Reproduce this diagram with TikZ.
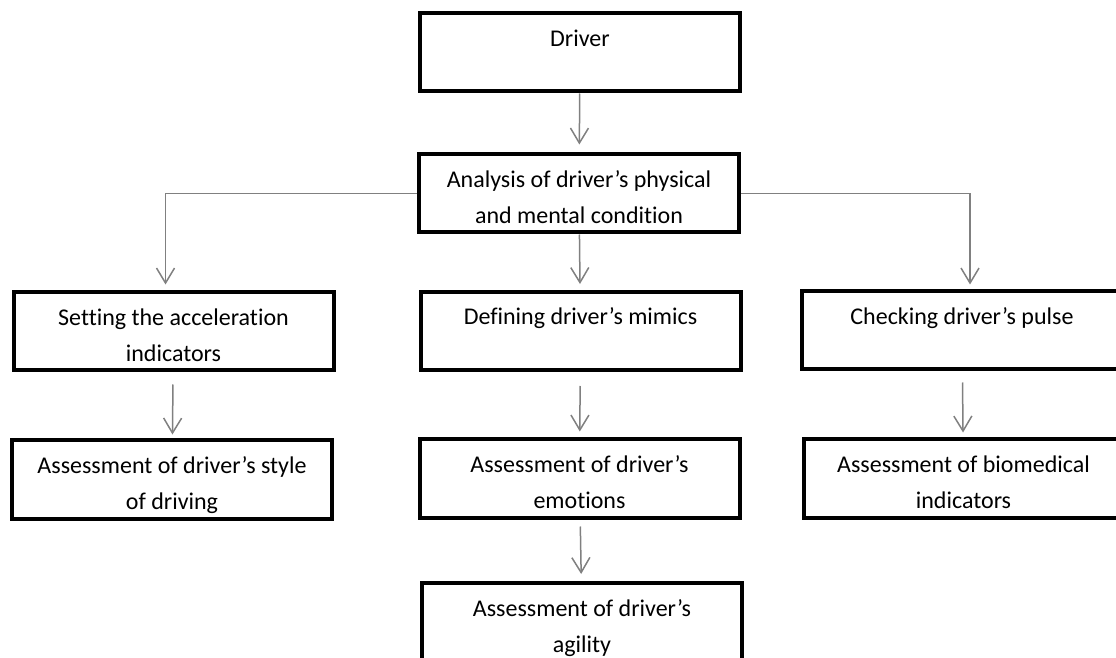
\documentclass[tikz,border=0pt]{standalone}
\usepackage{fontspec}
\setmainfont{Carlito}[Ligatures={NoCommon}]
\usetikzlibrary{arrows.meta}

\begin{document}
\begin{tikzpicture}[
    x=0.5pt, y=-0.5pt,
    >={Straight Barb[length=7.5pt,width=9pt]},
    font=\fontsize{12}{18}\selectfont,
    line join=miter,
    block/.style={
        draw,
        line width=2pt,
        rectangle,
        minimum width=160pt,
        minimum height=38pt,
        inner sep=2pt,
        align=center,
        execute at begin node={\rule{0pt}{32.5pt}},
        execute at end node={\rule[-2.5pt]{0pt}{2.5pt}}
    },
    link/.style={->, draw=gray, line width=0.75pt}
]
\useasboundingbox (0,0) rectangle (1116,658);
\clip (0,0) rectangle (1116,658);

% =========================
% Nodes
% =========================
\node[block] (drv) at (580,52.5) {Driver\\\mbox{}};

\node[block] (ana) at (579,193.5) {Analysis of driver’s physical\\and mental condition};

\node[block] (acc) at (173.5,331.5) {Setting the acceleration\\indicators};
\node[block] (mim) at (580.5,331) {Defining driver’s mimics\\\mbox{}};
\node[block] (pul) at (962,330.5) {Checking driver’s pulse\\\mbox{}};

\node[block] (sty) at (172,479.5) {Assessment of driver’s style\\of driving};
\node[block] (emo) at (579.5,478.5) {Assessment of driver’s\\emotions};
\node[block] (bio) at (963.5,478.5) {Assessment of biomedical\\indicators};

\node[block] (agi) at (582,622) {Assessment of driver’s\\agility};

% =========================
% Main chain
% =========================
\draw[link, shorten >=4pt] (drv) -- (ana);
\draw[link, shorten >=3pt] (ana) -- (mim);

% =========================
% Branches
% =========================
\draw[link, shorten >=3pt] (ana.west) -| ([xshift=-4pt]acc.north);
\draw[link, shorten >=2.5pt] (ana.east) -| ([xshift=4pt]pul.north);

\draw[link, shorten <=6pt, shorten >=2pt] (acc) -- (sty);
\draw[link, shorten <=7pt, shorten >=3pt] (mim) -- (emo);
\draw[link, shorten <=5.5pt, shorten >=2.5pt] (pul) -- (bio);
\draw[link, shorten <=3.5pt, shorten >=3.5pt] (emo) -- (agi);

\end{tikzpicture}
\end{document}
